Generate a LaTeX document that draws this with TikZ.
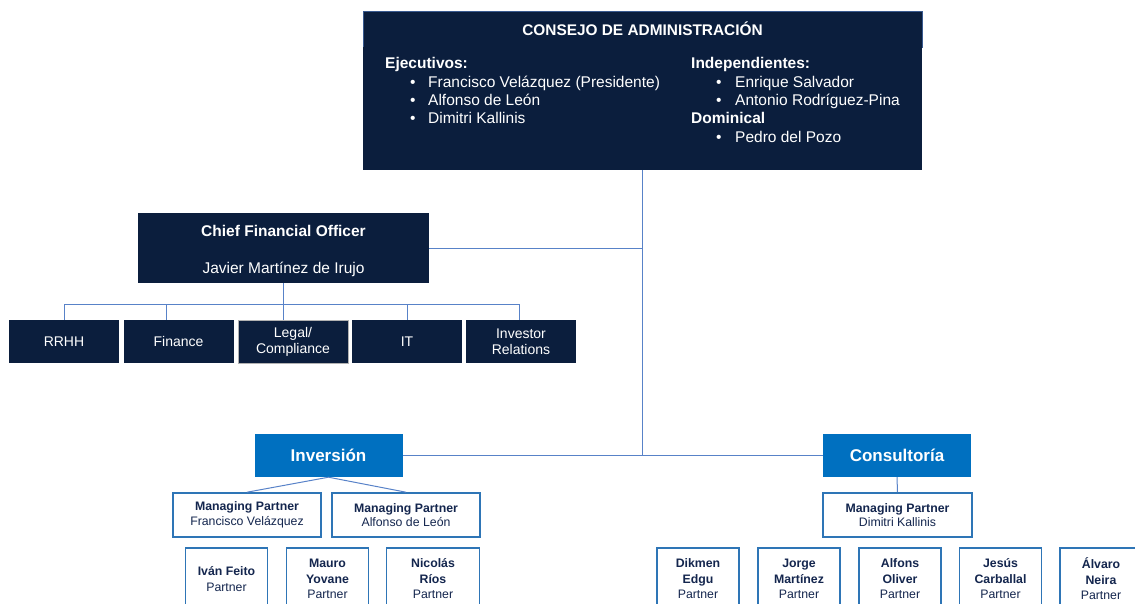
\documentclass[tikz,border=0pt]{standalone}
\usepackage{fontspec}
\setmainfont{Liberation Sans}
\usetikzlibrary{positioning}
\definecolor{marino}{RGB}{11,30,61}
\definecolor{azul}{RGB}{0,112,192}
\definecolor{linea}{RGB}{88,130,200}
\definecolor{borde}{RGB}{46,117,182}
\definecolor{texto}{RGB}{20,38,78}
\tikzset{
oscura/.style={rectangle,fill=marino,text=white,inner sep=0pt,align=center},
depto/.style={oscura,minimum width=110,minimum height=43,font=\fontsize{14}{16}\selectfont},
area/.style={rectangle,fill=azul,text=white,inner sep=0pt,minimum width=148,minimum height=43,font=\fontsize{17}{20}\selectfont\bfseries},
socio/.style={rectangle,draw=borde,line width=1.6pt,fill=white,text=texto,inner sep=0pt,align=center,minimum width=82,minimum height=62,font=\fontsize{12.3}{15.5}\selectfont},
gestor/.style={socio,minimum width=148,minimum height=44,font=\fontsize{12.3}{14.5}\selectfont},
lista/.style={anchor=base west,text=white,inner sep=0pt,font=\fontsize{15.5}{18}\selectfont},
conector/.style={draw=linea,line width=1pt}}

\begin{document}
\begin{tikzpicture}[x=1pt,y=-1pt]

\useasboundingbox (0,0) rectangle (1135,603);
\clip (0,0) rectangle (1135,603);

% consejo
\node[oscura,draw=linea!60!marino,minimum width=559,minimum height=36,font=\fontsize{15.4}{18}\selectfont\bfseries] (titulo) at (642.5,29) {CONSEJO DE ADMINISTRACIÓN};
\node[oscura,minimum width=559,minimum height=123] (consejo) at (642.5,108.5) {};

\node[lista,font=\fontsize{15.5}{18}\selectfont\bfseries] (ejec) at (385,68) {Ejecutivos:};
\foreach \nom/\yy in {Francisco Velázquez (Presidente)/87, Alfonso de León/105, Dimitri Kallinis/123}{
  \node[lista] (be\yy) at (410,\yy) {•};
  \node[lista] (e\yy) at (428,\yy) {\nom};
}
\node[lista,font=\fontsize{15.5}{18}\selectfont\bfseries] (indep) at (691,68) {Independientes:};
\foreach \nom/\yy in {Enrique Salvador/87, Antonio Rodríguez-Pina/105}{
  \node[lista] (bi\yy) at (716,\yy) {•};
  \node[lista] (i\yy) at (735,\yy) {\nom};
}
\node[lista,font=\fontsize{15.5}{18}\selectfont\bfseries] (domin) at (691,123) {Dominical};
\node[lista] (bd) at (716,142) {•};
\node[lista] (d1) at (735,142) {Pedro del Pozo};

% CFO
\node[oscura,minimum width=291,minimum height=70] (cfo) at (283.5,248) {};
\node[lista,anchor=base,font=\fontsize{15.5}{18}\selectfont\bfseries] (cfot) at (283.5,236.5) {Chief Financial Officer};
\node[lista,anchor=base] (cfon) at (283.5,273.5) {Javier Martínez de Irujo};

\node[depto] (rrhh) at (64,341.5) {RRHH};
\node[depto] (fin) at (178.5,341.5) {Finance};
\node[depto,draw=gray!60,line width=0.6pt] (leg) at (293,341.5) {Legal/\\Compliance};
\node[depto] (it) at (407,341.5) {IT};
\node[depto] (ir) at (521,341.5) {Investor\\Relations};

\coordinate (bus) at (284,304);
\draw[conector] (cfo.south) -- (cfo.south |- leg.north);
\draw[conector] (rrhh.north) -- (rrhh.north |- bus) -- ([xshift=-2pt]ir.north |- bus) -- ([xshift=-2pt]ir.north);
\draw[conector] ([xshift=-12.5pt]fin.north) -- ([xshift=-12.5pt]fin.north |- bus);
\draw[conector] (it.north) -- (it.north |- bus);
\draw[conector] (cfo.east) -- (cfo.east -| consejo.south);

% areas
\node[area] (inv) at (328.5,455.5) {Inversión};
\node[area] (cons) at (897,455.5) {Consultoría};

\draw[conector] (consejo.south) -- (consejo.south |- inv.east);
\draw[conector] (inv.east) -- (cons.west);

\node[gestor] (mp1) at (247,515) {\textbf{Managing Partner}\\Francisco Velázquez};
\node[gestor] (mp2) at (406,515) {\textbf{Managing Partner}\\Alfonso de León};
\node[gestor,minimum width=149] (mp3) at (897.5,515) {\textbf{Managing Partner}\\Dimitri Kallinis};

\draw[conector] (inv.south) -- (mp1.north);
\draw[conector] (inv.south) -- (mp2.north);
\draw[conector] (cons.south) -- (mp3.north);

% partners
\node[socio] (p1) at (226.5,579) {\textbf{Iván Feito}\\Partner};
\node[socio] (p2) at (327.5,579) {\textbf{Mauro}\\\textbf{Yovane}\\Partner};
\node[socio,minimum width=93] (p3) at (433,579) {\textbf{Nicolás}\\\textbf{Ríos}\\Partner};

\node[socio] (c1) at (698,579) {\textbf{Dikmen}\\\textbf{Edgu}\\Partner};
\node[socio] (c2) at (799,579) {\textbf{Jorge}\\\textbf{Martínez}\\Partner};
\node[socio] (c3) at (900,579) {\textbf{Alfons}\\\textbf{Oliver}\\Partner};
\node[socio] (c4) at (1000.5,579) {\textbf{Jesús}\\\textbf{Carballal}\\Partner};
\node[socio] (c5) at (1101,579) {\textbf{Álvaro}\\\textbf{Neira}\\Partner};

\end{tikzpicture}
\end{document}
